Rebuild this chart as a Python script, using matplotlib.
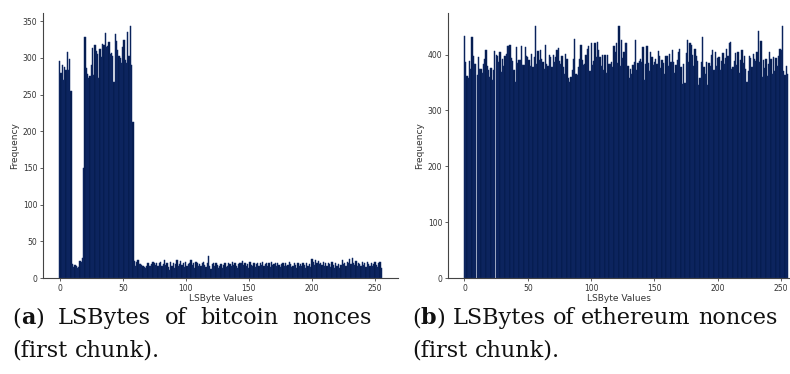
import numpy as np
import matplotlib.pyplot as plt

# LSByte value histograms (frequency per byte value)
byte_values = np.arange(256)

btc_freq = [
    296, 280, 290, 270, 287, 284, 308, 283, 298, 255, 19, 15, 18, 16, 14, 15,
    23, 22, 27, 150, 329, 286, 278, 272, 276, 290, 313, 277, 318, 310, 305, 273,
    312, 301, 319, 318, 334, 315, 316, 322, 305, 307, 302, 267, 333, 323, 311, 302,
    300, 293, 315, 324, 297, 293, 335, 303, 344, 290, 212, 23, 17, 22, 24, 19,
    19, 18, 16, 15, 14, 17, 21, 16, 17, 19, 22, 20, 18, 21, 17, 21,
    22, 16, 19, 24, 18, 20, 15, 11, 22, 17, 21, 13, 19, 24, 16, 19,
    23, 18, 21, 15, 22, 17, 19, 21, 24, 18, 20, 14, 22, 21, 17, 19,
    16, 20, 22, 18, 15, 20, 30, 17, 12, 19, 21, 16, 20, 18, 13, 17,
    19, 14, 18, 20, 15, 17, 21, 19, 16, 22, 18, 20, 17, 14, 19, 21,
    20, 23, 18, 21, 16, 19, 14, 22, 18, 17, 20, 15, 19, 21, 17, 20,
    18, 22, 16, 19, 21, 17, 20, 15, 22, 18, 19, 21, 17, 20, 18, 15,
    19, 21, 17, 20, 16, 18, 22, 19, 15, 17, 20, 18, 14, 21, 17, 19,
    16, 20, 18, 14, 21, 17, 19, 15, 26, 22, 18, 24, 20, 23, 19, 21,
    18, 22, 17, 20, 16, 21, 19, 15, 22, 18, 14, 20, 17, 19, 13, 18,
    24, 19, 21, 17, 22, 20, 26, 19, 27, 21, 18, 23, 17, 20, 19, 16,
    22, 18, 20, 15, 22, 19, 17, 21, 16, 19, 22, 18, 15, 20, 22, 13,
]

eth_freq = [
    434, 386, 362, 358, 388, 375, 431, 398, 383, 383, 364, 396, 374, 375, 368, 384,
    393, 408, 380, 372, 360, 376, 355, 372, 407, 399, 398, 386, 405, 369, 392, 380,
    397, 402, 416, 416, 418, 394, 388, 372, 351, 413, 385, 391, 390, 415, 382, 382,
    414, 398, 396, 390, 380, 402, 378, 396, 452, 383, 406, 390, 409, 393, 386, 375,
    417, 384, 379, 399, 396, 378, 400, 386, 396, 408, 412, 389, 384, 397, 378, 365,
    401, 393, 358, 351, 360, 373, 392, 428, 366, 364, 378, 393, 418, 390, 381, 383,
    400, 410, 416, 371, 421, 382, 388, 420, 396, 423, 409, 396, 380, 400, 373, 399,
    367, 399, 383, 384, 386, 378, 416, 405, 421, 385, 452, 379, 426, 394, 405, 421,
    421, 380, 358, 375, 365, 382, 387, 426, 372, 385, 388, 393, 386, 414, 355, 383,
    415, 385, 371, 405, 395, 382, 387, 393, 383, 406, 398, 376, 391, 385, 366, 398,
    397, 380, 401, 386, 408, 386, 368, 382, 390, 405, 411, 378, 348, 383, 350, 403,
    426, 386, 420, 418, 400, 380, 411, 398, 388, 345, 359, 387, 431, 378, 365, 386,
    346, 385, 380, 399, 408, 372, 405, 380, 394, 395, 372, 389, 403, 383, 394, 411,
    398, 420, 423, 375, 378, 389, 403, 381, 405, 368, 390, 409, 385, 398, 374, 351,
    370, 398, 394, 378, 402, 392, 388, 405, 442, 387, 425, 360, 391, 376, 393, 361,
    383, 405, 393, 365, 396, 371, 394, 380, 397, 410, 408, 452, 370, 363, 380, 365,
]

assert len(btc_freq) == 256 and len(eth_freq) == 256

W, H = 790, 374
fig = plt.figure(figsize=(W / 100, H / 100), dpi=100)

ax1 = fig.add_axes([43 / W, 96 / H, 355 / W, 265 / H])
ax2 = fig.add_axes([448 / W, 96 / H, 342 / W, 265 / H])

for ax, freq in [(ax1, btc_freq), (ax2, eth_freq)]:
    ax.bar(byte_values, freq, width=1.0, color='#021848',
           edgecolor='#142e6e', linewidth=0.35)
    ax.spines['top'].set_visible(False)
    ax.spines['right'].set_visible(False)
    for s in ['left', 'bottom']:
        ax.spines[s].set_color('#444444')
        ax.spines[s].set_linewidth(0.8)
    ax.tick_params(labelsize=5.5, length=2.5, width=0.6,
                   color='#444444', labelcolor='#333333', pad=1.5)
    ax.set_xticks([0, 50, 100, 150, 200, 250])
    ax.set_xlabel('LSByte Values', fontsize=6.5, color='#333333', labelpad=1)
    ax.set_ylabel('Frequency', fontsize=6.5, color='#333333', labelpad=3)

ax1.set_yticks(range(0, 351, 50))
ax2.set_yticks(range(0, 401, 100))
ax2.set_xlim(-13, 257)

# captions (serif, justified first line on the left)
cap_font = 'DejaVu Serif'
renderer = fig.canvas.get_renderer()


def piece_width(txt, size, bold=False):
    t = fig.text(0, 0, txt, fontsize=size, family=cap_font,
                 fontweight='bold' if bold else 'normal')
    w = t.get_window_extent(renderer).width
    t.remove()
    return w


def draw_word(x, y, parts, size):
    # parts: list of (text, bold); x, y in pixels
    for txt, bold in parts:
        fig.text(x / W, 1 - y / H, txt, fontsize=size, family=cap_font,
                 fontweight='bold' if bold else 'normal', va='center', ha='left',
                 color='#111111')
        x += piece_width(txt, size, bold)
    return x


def word_width(parts, size):
    return sum(piece_width(t, size, b) for t, b in parts)


def caption_line(x0, x1, y, words, size, justify):
    widths = [word_width(w, size) for w in words]
    space = piece_width('a a', size) - 2 * piece_width('a', size)
    if justify and len(words) > 1:
        gap = (x1 - x0 - sum(widths)) / (len(words) - 1)
    else:
        gap = space
    x = x0
    for w, wd in zip(words, widths):
        draw_word(x, y, w, size)
        x += wd + gap


words_a = [[('(', False), ('a', True), (')', False)], [('LSBytes', False)],
           [('of', False)], [('bitcoin', False)], [('nonces', False)]]
words_b = [[('(', False), ('b', True), (')', False)], [('LSBytes', False)],
           [('of', False)], [('ethereum', False)], [('nonces', False)]]
line2 = [[('(first', False)], [('chunk).', False)]]

# size so that the natural right caption spans its column
ref = 10
nat = sum(word_width(w, ref) for w in words_b) + 4 * (piece_width('a a', ref) - 2 * piece_width('a', ref))
cap_size = ref * (778 - 412) / nat

caption_line(12, 372, 318, words_a, cap_size, True)
caption_line(12, 372, 350, line2, cap_size, False)
caption_line(412, 778, 318, words_b, cap_size, False)
caption_line(412, 778, 350, line2, cap_size, False)

fig.savefig('out.png', dpi=100)
